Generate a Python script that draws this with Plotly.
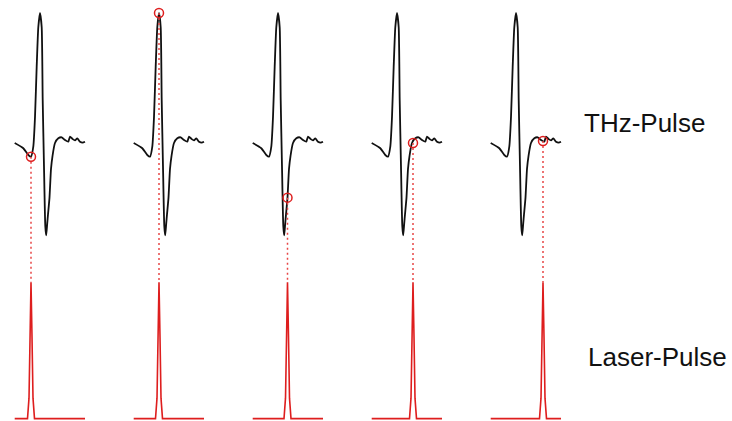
import plotly.graph_objects as go

# THz field transient, time in ps relative to the main peak, amplitude normalised to the peak
thz_time = [-2.53, -1.67, -1.17, -0.9, -0.67, -0.5, -0.33, -0.17, 0.0, 0.17, 0.27, 0.4,
            0.53, 0.62, 0.72, 0.8, 0.95, 1.1, 1.25, 1.5, 1.83, 2.17, 2.5, 2.83, 3.0,
            3.27, 3.5, 3.73, 4.0, 4.27, 4.5]
thz_field = [0.0, -0.04, -0.092, -0.105, -0.028, 0.2, 0.59, 0.89, 1.0, 0.89, 0.33, -0.18,
             -0.64, -0.71, -0.62, -0.55, -0.42, -0.2, -0.1, 0.0, 0.036, 0.044, 0.023, 0.01,
             0.05, 0.03, 0.02, 0.036, 0.01, 0.003, 0.01]

# Sampling delay of the laser pulse in each frame and the field value it picks up
sample_delay = [-0.9, 0.0, 0.95, 1.6, 2.7]
sample_field = [-0.105, 1.0, -0.42, 0.0, 0.015]

# Optical probe pulse profile (relative time in ps, normalised intensity)
laser_time = [-0.35, -0.2, -0.1, 0.0, 0.1, 0.2, 0.35]
laser_intensity = [0.0, 0.15, 0.6, 1.0, 0.6, 0.15, 0.0]

# Layout of the frames
FRAME_SPACING = 11.9      # ps between neighbouring frames
WINDOW = (-2.53, 4.5)     # time window shown in each frame
LASER_BASE = -2.12        # vertical offset of the laser row
LASER_SCALE = 1.05        # height of the laser pulse

THZ_COLOR = "#111111"
RED = "rgb(222,30,30)"
DOT_RED = "rgb(232,70,70)"

fig = go.Figure()

for k, (d, e) in enumerate(zip(sample_delay, sample_field)):
    off = k * FRAME_SPACING

    # THz waveform
    fig.add_trace(go.Scatter(
        x=[t + off for t in thz_time], y=thz_field, mode="lines",
        line=dict(color=THZ_COLOR, width=1.8, shape="spline", smoothing=0.5),
        hoverinfo="skip", showlegend=False))

    # laser pulse with flat baseline across the frame window
    lx = [WINDOW[0] + off] + [d + off + t for t in laser_time] + [WINDOW[1] + off]
    ly = [LASER_BASE] + [LASER_BASE + LASER_SCALE * i for i in laser_intensity] + [LASER_BASE]
    fig.add_trace(go.Scatter(
        x=lx, y=ly, mode="lines",
        line=dict(color=RED, width=1.6), hoverinfo="skip", showlegend=False))

    # dotted guide from the sampled point down to the laser peak
    fig.add_trace(go.Scatter(
        x=[d + off, d + off], y=[e, LASER_BASE + LASER_SCALE], mode="lines",
        line=dict(color=DOT_RED, width=1.5, dash="2px,3px"),
        hoverinfo="skip", showlegend=False))

    # sampled point
    fig.add_trace(go.Scatter(
        x=[d + off], y=[e], mode="markers",
        marker=dict(symbol="circle-open", size=9, color=RED, line=dict(width=1.5, color=RED)),
        hoverinfo="skip", showlegend=False))

fig.add_annotation(text="THz-Pulse", xref="paper", yref="paper", x=0.795, y=0.708,
                   xanchor="left", yanchor="middle", showarrow=False,
                   font=dict(family="Liberation Sans, Arial", size=26, color="#111111"))
fig.add_annotation(text="Laser-Pulse", xref="paper", yref="paper", x=0.800, y=0.152,
                   xanchor="left", yanchor="middle", showarrow=False,
                   font=dict(family="Liberation Sans, Arial", size=26, color="#111111"))

fig.update_xaxes(range=[-4.0, 69.2], visible=False)
fig.update_yaxes(range=[-2.138, 1.1], visible=False)
fig.update_layout(width=732, height=421, margin=dict(l=0, r=0, t=0, b=0),
                  paper_bgcolor="white", plot_bgcolor="white")

fig.write_html("out.html")
